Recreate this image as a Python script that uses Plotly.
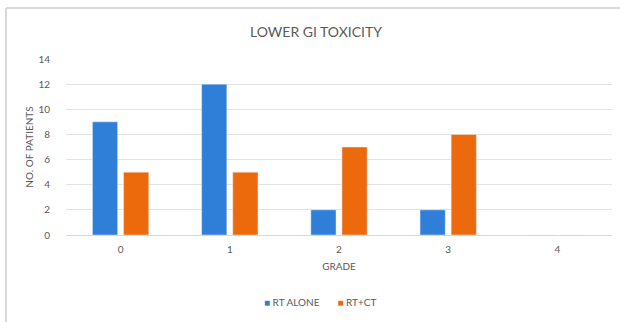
import plotly.graph_objects as go

grades = ["0", "1", "2", "3", "4"]
rt_alone = [9, 12, 2, 2, 0]
rt_ct = [5, 5, 7, 8, 0]
series_names = ["RT ALONE", "RT+CT"]

blue = "#2F7ED8"
orange = "#EC6A0C"
text_grey = "#595959"
font_family = "Lato, 'Open Sans', sans-serif"

fig = go.Figure()
fig.add_trace(go.Bar(x=grades, y=rt_alone, name=series_names[0], marker_color=blue))
fig.add_trace(go.Bar(x=grades, y=rt_ct, name=series_names[1], marker_color=orange))

# plot area geometry (pixels) used to place the frame and legend in paper units
L, R, T, B = 66, 8, 59, 87
W = 620 - L - R
H = 322 - T - B

legend_text = (
    f"<span style='color:{blue}'>■</span> {series_names[0]}"
    f"       <span style='color:{orange}'>■</span> {series_names[1]}"
)

fig.update_layout(
    width=620,
    height=322,
    margin=dict(l=L, r=R, t=T, b=B),
    paper_bgcolor="white",
    plot_bgcolor="white",
    barmode="group",
    bargap=0.43,
    bargroupgap=0.19,
    showlegend=False,
    font=dict(family=font_family, color=text_grey, size=10),
    title=dict(
        text="LOWER GI TOXICITY",
        x=316 / 620,
        xanchor="center",
        y=1 - 32 / 322,
        yanchor="middle",
        font=dict(size=14, color=text_grey, family=font_family),
    ),
    xaxis=dict(
        type="category",
        showgrid=False,
        showline=True,
        linecolor="#d9d9d9",
        linewidth=1,
        ticks="",
        ticklabelstandoff=5,
        tickfont=dict(size=10, color=text_grey),
        title=dict(text="GRADE", font=dict(size=10, color=text_grey), standoff=8),
    ),
    yaxis=dict(
        range=[0, 14],
        dtick=2,
        showgrid=True,
        gridcolor="#e3e3e3",
        zeroline=False,
        ticks="",
        ticklabelstandoff=15,
        tickfont=dict(size=10, color=text_grey),
        title=dict(text="NO. OF PATIENTS", font=dict(size=10, color=text_grey), standoff=2),
    ),
    annotations=[
        dict(
            text=legend_text,
            xref="paper", yref="paper",
            x=(320 - L) / W, y=-(302 - (T + H)) / H,
            xanchor="center", yanchor="middle",
            showarrow=False,
            font=dict(size=10, color=text_grey),
        )
    ],
    shapes=[
        dict(type="line", xref="paper", yref="paper",
             x0=(6 - L) / W, x1=(6 - L) / W, y0=(T + H - 8) / H, y1=-(B + 5) / H,
             line=dict(color="#d9d9d9", width=2)),
        dict(type="line", xref="paper", yref="paper",
             x0=(6 - L) / W, x1=(625 - L) / W, y0=(T + H - 8) / H, y1=(T + H - 8) / H,
             line=dict(color="#d9d9d9", width=2)),
    ],
)

fig.write_html("out.html")
